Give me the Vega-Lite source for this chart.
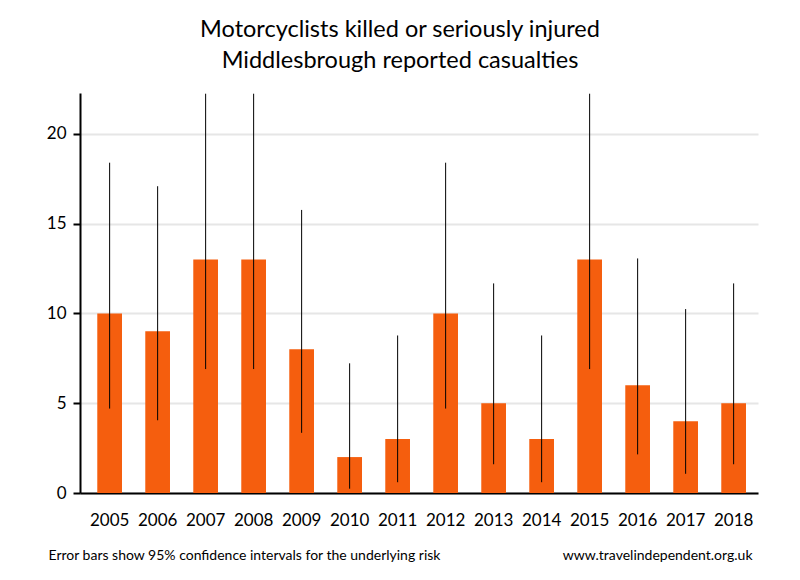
{
  "$schema": "https://vega.github.io/schema/vega-lite/v6.json",
  "width": 678,
  "height": 400,
  "autosize": {"type": "none"},
  "padding": {"left": 80, "top": 93, "right": 42, "bottom": 87},
  "background": "white",
  "title": {
    "text": ["Motorcyclists killed or seriously injured", "Middlesbrough reported casualties"],
    "font": "Lato",
    "fontSize": 23.5,
    "fontWeight": "normal",
    "color": "black",
    "anchor": "middle",
    "frame": "group",
    "dx": -19,
    "offset": 21,
    "lineHeight": 31
  },
  "config": {"view": {"stroke": null}, "font": "Lato"},
  "data": {
    "values": [
      {"year": "2005", "value": 10, "lo": 4.7, "hi": 18.39},
      {"year": "2006", "value": 9, "lo": 4.05, "hi": 17.08},
      {"year": "2007", "value": 13, "lo": 6.9, "hi": 22.23},
      {"year": "2008", "value": 13, "lo": 6.9, "hi": 22.23},
      {"year": "2009", "value": 8, "lo": 3.35, "hi": 15.76},
      {"year": "2010", "value": 2, "lo": 0.24, "hi": 7.22},
      {"year": "2011", "value": 3, "lo": 0.6, "hi": 8.77},
      {"year": "2012", "value": 10, "lo": 4.7, "hi": 18.39},
      {"year": "2013", "value": 5, "lo": 1.6, "hi": 11.67},
      {"year": "2014", "value": 3, "lo": 0.6, "hi": 8.77},
      {"year": "2015", "value": 13, "lo": 6.9, "hi": 22.23},
      {"year": "2016", "value": 6, "lo": 2.15, "hi": 13.06},
      {"year": "2017", "value": 4, "lo": 1.07, "hi": 10.24},
      {"year": "2018", "value": 5, "lo": 1.6, "hi": 11.67}
    ]
  },
  "layer": [
    {
      "mark": {"type": "bar", "color": "#F55E0E"},
      "encoding": {
        "x": {
          "field": "year",
          "type": "ordinal",
          "scale": {"paddingInner": 0.485, "paddingOuter": 0.305, "align": 0.59},
          "axis": {
            "title": "Error bars show 95% confidence intervals for the underlying risk",
            "titleFont": "Lato",
            "titleFontSize": 14,
            "titleFontWeight": "normal",
            "titleColor": "black",
            "titleAnchor": "start",
            "titleAlign": "left",
            "titleBaseline": "alphabetic",
            "titleX": -32,
            "titleY": 66,
            "labelAngle": 0,
            "labelFont": "Lato",
            "labelFontSize": 17,
            "labelColor": "black",
            "labelPadding": 19,
            "ticks": false,
            "domainColor": "black",
            "domainWidth": 2
          }
        },
        "y": {
          "field": "value",
          "type": "quantitative",
          "scale": {"domain": [0, 22.27], "nice": false},
          "axis": {
            "title": null,
            "values": [0, 5, 10, 15, 20],
            "labelFont": "Lato",
            "labelFontSize": 17,
            "labelColor": "black",
            "labelPadding": 7,
            "tickSize": 7,
            "tickWidth": 2,
            "tickColor": "black",
            "domainColor": "black",
            "domainWidth": 2,
            "grid": true,
            "gridColor": "#e6e6e6",
            "gridWidth": 2
          }
        }
      }
    },
    {
      "mark": {"type": "rule", "color": "black", "strokeWidth": 1, "clip": true},
      "encoding": {
        "x": {"field": "year", "type": "ordinal"},
        "y": {
          "field": "lo",
          "type": "quantitative",
          "axis": {
            "orient": "right",
            "title": "www.travelindependent.org.uk",
            "titleFont": "Lato",
            "titleFontSize": 14,
            "titleFontWeight": "normal",
            "titleColor": "black",
            "titleAngle": 0,
            "titleAlign": "right",
            "titleBaseline": "alphabetic",
            "titleX": -6,
            "titleY": 466,
            "labels": false,
            "ticks": false,
            "domain": false,
            "grid": false
          }
        },
        "y2": {"field": "hi"}
      }
    }
  ],
  "resolve": {"axis": {"y": "independent"}}
}
